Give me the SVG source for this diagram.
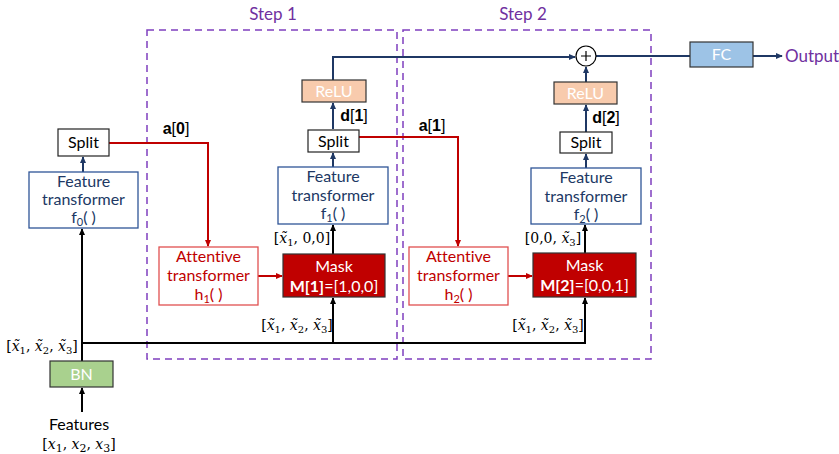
<svg xmlns="http://www.w3.org/2000/svg" width="839" height="454" viewBox="0 0 839 454">
<defs>
<marker id="an" viewBox="0 0 8 8" refX="7" refY="4" markerWidth="7" markerHeight="7" markerUnits="userSpaceOnUse" orient="auto"><path d="M0,0.5 L8,4 L0,7.5 Z" fill="#1f3864"/></marker>
<marker id="ar" viewBox="0 0 8 8" refX="7" refY="4" markerWidth="7" markerHeight="7" markerUnits="userSpaceOnUse" orient="auto"><path d="M0,0.5 L8,4 L0,7.5 Z" fill="#c00000"/></marker>
<marker id="ak" viewBox="0 0 8 8" refX="7" refY="4" markerWidth="7" markerHeight="7" markerUnits="userSpaceOnUse" orient="auto"><path d="M0,0.5 L8,4 L0,7.5 Z" fill="#000"/></marker>
</defs>
<style>
text{font-family:Lato,"Open Sans","Liberation Sans",sans-serif;font-size:16px;text-anchor:middle;font-variant-ligatures:none}
.step{fill:none;stroke:#7f3fbf;stroke-width:1.5;stroke-dasharray:7,5}
.purple{fill:#7030a0;font-size:17px}
.split{fill:#fff;stroke:#222;stroke-width:1.2}
.ft{fill:#fff;stroke:#2f5597;stroke-width:1.3}
.ftt{fill:#203864}
.att{fill:#fff;stroke:#e05050;stroke-width:1.3}
.attt{fill:#c00000}
.mask{fill:#c00000;stroke:#333;stroke-width:1.2}
.w{fill:#fff}
.relu{fill:#f8cbad;stroke:#333;stroke-width:1.2}
.math{font-family:"DejaVu Serif","Liberation Serif",serif;font-size:14px;fill:#000}
.lbl{font-family:"Liberation Sans",sans-serif;font-size:16px;fill:#000}
.cn{fill:none;stroke-width:2}
.k{stroke:#000}
.n{stroke:#1f3864}
.r{stroke:#c00000}
</style>
<g id="step1"><rect class="step" x="147" y="30" width="250" height="329"/><text class="purple" x="273" y="20">Step 1</text></g>
<g id="step2"><rect class="step" x="403" y="30" width="248" height="329"/><text class="purple" x="523" y="20">Step 2</text></g>
<g id="connectors">
<path class="cn k" d="M82,412 L82,388" marker-end="url(#ak)"/>
<path class="cn k" d="M82,361 L82,229" marker-end="url(#ak)"/>
<path class="cn k" d="M82,343 L585,343 L585,298" marker-end="url(#ak)"/>
<path class="cn k" d="M333,343 L333,298" marker-end="url(#ak)"/>
<path class="cn k" d="M333,254 L333,225" marker-end="url(#ak)"/>
<path class="cn k" d="M585,253 L585,225" marker-end="url(#ak)"/>
<path class="cn n" d="M83,172 L83,157" marker-end="url(#an)"/>
<path class="cn n" d="M333,167 L333,153" marker-end="url(#an)"/>
<path class="cn n" d="M333,129 L333,103" marker-end="url(#an)"/>
<path class="cn n" d="M333,80 L333,57 L575,57" marker-end="url(#an)"/>
<path class="cn n" d="M586,168 L586,154" marker-end="url(#an)"/>
<path class="cn n" d="M586,132 L586,105" marker-end="url(#an)"/>
<path class="cn n" d="M586,82 L586,67" marker-end="url(#an)"/>
<path class="cn n" d="M596,56 L690,56"/>
<path class="cn n" d="M753,56 L782,56" marker-end="url(#an)"/>
<path class="cn r" d="M109,143 L208,143 L208,246" marker-end="url(#ar)"/>
<path class="cn r" d="M258,276 L282,276" marker-end="url(#ar)"/>
<path class="cn r" d="M359,137 L458,137 L458,246" marker-end="url(#ar)"/>
<path class="cn r" d="M508,276 L532,276" marker-end="url(#ar)"/>
</g>
<g id="features"><text x="79" y="430">Features</text><text class="math" x="79" y="449" font-size="16">[<tspan font-style="italic">x</tspan><tspan font-size="11" dy="3">1</tspan><tspan dy="-3">, </tspan><tspan font-style="italic">x</tspan><tspan font-size="11" dy="3">2</tspan><tspan dy="-3">, </tspan><tspan font-style="italic">x</tspan><tspan font-size="11" dy="3">3</tspan><tspan dy="-3">]</tspan></text></g>
<g id="bn"><rect x="50" y="361" width="63" height="26" fill="#a9d18e" stroke="#333" stroke-width="1.2"/><text class="w" x="81.5" y="380">BN</text></g>
<g id="xtilde0"><text class="math" x="42" y="351">[<tspan font-style="italic">x̃</tspan><tspan font-size="10" dy="3">1</tspan><tspan dy="-3">, </tspan><tspan font-style="italic">x̃</tspan><tspan font-size="10" dy="3">2</tspan><tspan dy="-3">, </tspan><tspan font-style="italic">x̃</tspan><tspan font-size="10" dy="3">3</tspan><tspan dy="-3">]</tspan></text></g>
<g id="ft0"><rect class="ft" x="29" y="172" width="109" height="56"/><text class="ftt" x="83.5" y="187">Feature</text><text class="ftt" x="83.5" y="205">transformer</text><text class="ftt" x="83.5" y="223">f<tspan font-size="11" dy="3">0</tspan><tspan dy="-3">( )</tspan></text></g>
<g id="split0"><rect class="split" x="58" y="129" width="51" height="27"/><text x="83.5" y="148">Split</text></g>
<g id="a0"><text class="lbl" x="176" y="134"><tspan font-weight="bold">a</tspan>[<tspan font-weight="bold">0</tspan>]</text></g>
<g id="att1"><rect class="att" x="159" y="247" width="99" height="58"/><text class="attt" x="208.5" y="262">Attentive</text><text class="attt" x="208.5" y="281">transformer</text><text class="attt" x="208.5" y="300">h<tspan font-size="11" dy="3">1</tspan><tspan dy="-3">( )</tspan></text></g>
<g id="mask1"><rect class="mask" x="283" y="254" width="102" height="43"/><text class="w" x="334" y="272">Mask</text><text class="w" x="334" y="292"><tspan font-weight="bold">M[1]</tspan>=[1,0,0]</text></g>
<g id="xt1"><text class="math" x="297" y="330">[<tspan font-style="italic">x̃</tspan><tspan font-size="10" dy="3">1</tspan><tspan dy="-3">, </tspan><tspan font-style="italic">x̃</tspan><tspan font-size="10" dy="3">2</tspan><tspan dy="-3">, </tspan><tspan font-style="italic">x̃</tspan><tspan font-size="10" dy="3">3</tspan><tspan dy="-3">]</tspan></text></g>
<g id="x1only"><text class="math" x="302" y="243">[<tspan font-style="italic">x̃</tspan><tspan font-size="10" dy="3">1</tspan><tspan dy="-3">, 0,0]</tspan></text></g>
<g id="ft1"><rect class="ft" x="278" y="167" width="110" height="57"/><text class="ftt" x="333" y="182">Feature</text><text class="ftt" x="333" y="201">transformer</text><text class="ftt" x="333" y="219">f<tspan font-size="11" dy="3">1</tspan><tspan dy="-3">( )</tspan></text></g>
<g id="split1"><rect class="split" x="308" y="130" width="51" height="22"/><text x="333.5" y="147">Split</text></g>
<g id="d1"><text class="lbl" x="354" y="121"><tspan font-weight="bold">d</tspan>[<tspan font-weight="bold">1</tspan>]</text></g>
<g id="relu1"><rect class="relu" x="302" y="80" width="64" height="22"/><text class="w" x="334" y="97">ReLU</text></g>
<g id="a1"><text class="lbl" x="432" y="131"><tspan font-weight="bold">a</tspan>[<tspan font-weight="bold">1</tspan>]</text></g>
<g id="att2"><rect class="att" x="409" y="247" width="99" height="58"/><text class="attt" x="458.5" y="262">Attentive</text><text class="attt" x="458.5" y="281">transformer</text><text class="attt" x="458.5" y="300">h<tspan font-size="11" dy="3">2</tspan><tspan dy="-3">( )</tspan></text></g>
<g id="mask2"><rect class="mask" x="533" y="253" width="103" height="44"/><text class="w" x="584.5" y="271">Mask</text><text class="w" x="584.5" y="291"><tspan font-weight="bold">M[2]</tspan>=[0,0,1]</text></g>
<g id="xt2"><text class="math" x="548" y="330">[<tspan font-style="italic">x̃</tspan><tspan font-size="10" dy="3">1</tspan><tspan dy="-3">, </tspan><tspan font-style="italic">x̃</tspan><tspan font-size="10" dy="3">2</tspan><tspan dy="-3">, </tspan><tspan font-style="italic">x̃</tspan><tspan font-size="10" dy="3">3</tspan><tspan dy="-3">]</tspan></text></g>
<g id="x3only"><text class="math" x="553" y="243">[0,0, <tspan font-style="italic">x̃</tspan><tspan font-size="10" dy="3">3</tspan><tspan dy="-3">]</tspan></text></g>
<g id="ft2"><rect class="ft" x="531" y="168" width="110" height="56"/><text class="ftt" x="586" y="183">Feature</text><text class="ftt" x="586" y="202">transformer</text><text class="ftt" x="586" y="220">f<tspan font-size="11" dy="3">2</tspan><tspan dy="-3">( )</tspan></text></g>
<g id="split2"><rect class="split" x="560" y="132" width="52" height="21"/><text x="586" y="148">Split</text></g>
<g id="d2"><text class="lbl" x="606" y="123"><tspan font-weight="bold">d</tspan>[<tspan font-weight="bold">2</tspan>]</text></g>
<g id="relu2"><rect class="relu" x="554" y="82" width="63" height="22"/><text class="w" x="585.5" y="99">ReLU</text></g>
<g id="plus"><circle cx="586" cy="56" r="10" fill="#fff" stroke="#000" stroke-width="1.2"/><path d="M581,56 H591 M586,51 V61" stroke="#000" stroke-width="1.2"/></g>
<g id="fc"><rect x="690" y="42" width="63" height="25" fill="#9dc3e6" stroke="#333" stroke-width="1.2"/><text class="w" x="721.5" y="60">FC</text></g>
<g id="output"><text class="purple" x="785" y="62" style="text-anchor:start">Output</text></g>
</svg>
